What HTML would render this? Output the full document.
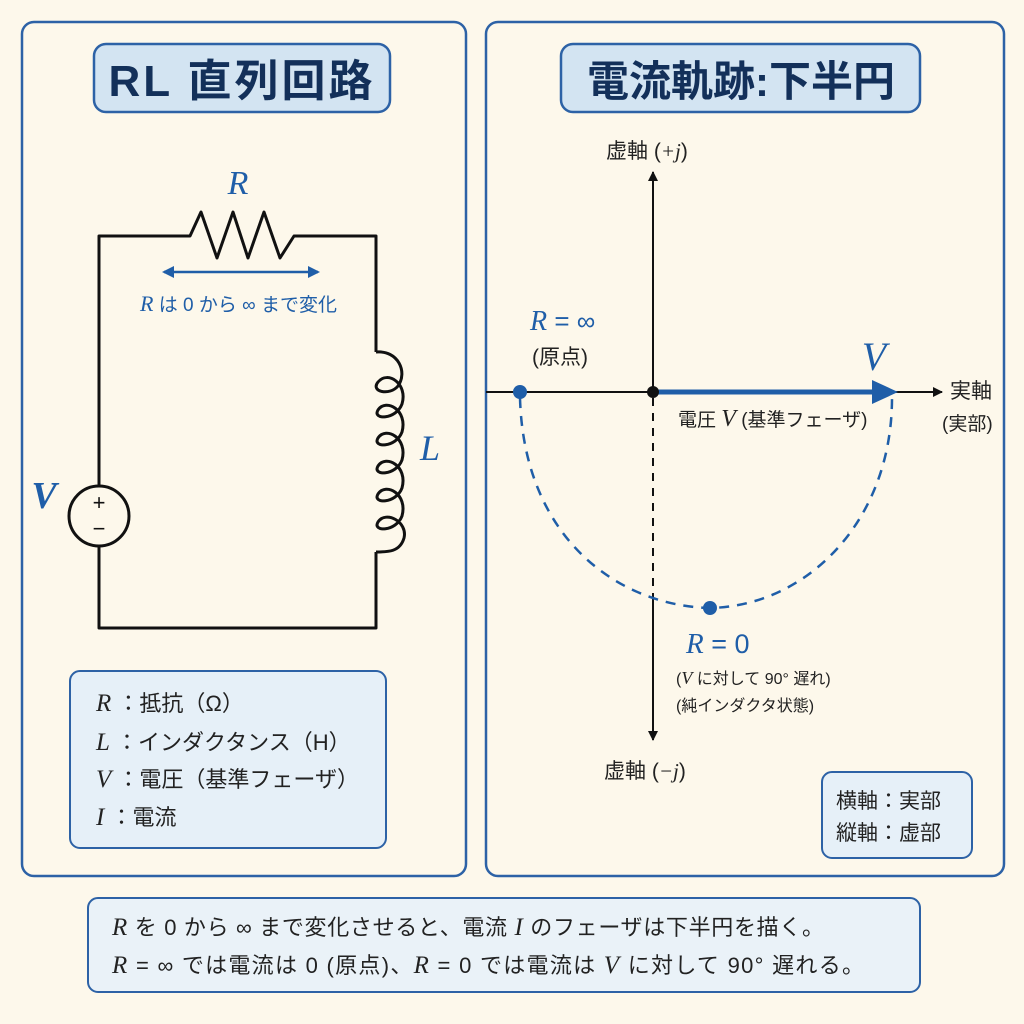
<!DOCTYPE html>
<html><head><meta charset="utf-8"><style>
html,body{margin:0;padding:0;background:#fdf8eb;}
svg{display:block;}
text{font-family:"Liberation Sans","Noto Sans CJK JP",sans-serif;}
.it{font-family:"Liberation Serif","Noto Serif CJK SC",serif;font-style:italic;}
</style></head><body>
<svg width="1024" height="1024" viewBox="0 0 1024 1024" xmlns="http://www.w3.org/2000/svg">
<rect width="1024" height="1024" fill="#fdf8eb"/>
<defs>
<marker id="ab" markerWidth="10" markerHeight="10" refX="9" refY="5" orient="auto" markerUnits="userSpaceOnUse"><path d="M0,0 L10,5 L0,10 z" fill="#111"/></marker>
<marker id="bb" markerWidth="16" markerHeight="16" refX="10" refY="6" orient="auto-start-reverse" markerUnits="userSpaceOnUse"><path d="M0,0 L12,6 L0,12 z" fill="#1f5ea8"/></marker>
</defs>
<rect x="22" y="22" width="444" height="854" rx="12" fill="#fdf8eb" stroke="#2d62a6" stroke-width="2.5"/>
<rect x="486" y="22" width="518" height="854" rx="12" fill="#fdf8eb" stroke="#2d62a6" stroke-width="2.5"/>
<rect x="88" y="898" width="832" height="94" rx="10" fill="#eaf2f8" stroke="#2d62a6" stroke-width="2"/>
<rect x="94" y="44" width="296" height="68" rx="12" fill="#d3e4f2" stroke="#2d62a6" stroke-width="2.5"/>
<text x="242" y="96" text-anchor="middle" font-size="44" font-weight="bold" fill="#13305a" letter-spacing="3">RL 直列回路</text>
<rect x="561" y="44" width="359" height="68" rx="12" fill="#d3e4f2" stroke="#2d62a6" stroke-width="2.5"/>
<text x="741" y="96" text-anchor="middle" font-size="42" font-weight="bold" fill="#13305a">電流軌跡:下半円</text>
<g fill="none" stroke="#111" stroke-width="3" stroke-linejoin="round">
<path d="M99,486 V236 H190 L201,212 L217,258 L233,212 L248,258 L264,212 L280,258 L294,236 H376 V352"/>
<path d="M99,546 V628 H376 V552"/>
<circle cx="99" cy="516" r="30"/>
<path d="M376,352 C398,350 408,372 398,386 C390,396 370,392 378,382 C388,370 408,384 402,404 C396,420 372,420 378,410 C386,398 408,410 402,432 C396,448 372,448 378,438 C386,426 408,438 402,460 C396,476 372,476 378,466 C386,454 408,466 402,488 C396,504 372,504 378,494 C386,482 408,494 402,516 C396,532 372,532 378,522 C386,510 408,522 404,538 C400,552 388,552 376,552"/>
</g>
<text x="99" y="510" text-anchor="middle" font-size="22" fill="#111">+</text>
<text x="99" y="536" text-anchor="middle" font-size="22" fill="#111">−</text>
<text x="238" y="194" class="it" font-size="34" fill="#1f5ea8" text-anchor="middle">R</text>
<text x="44" y="508" class="it" font-size="38" fill="#1f5ea8" font-weight="bold" text-anchor="middle">V</text>
<text x="430" y="460" class="it" font-size="36" fill="#1f5ea8" text-anchor="middle">L</text>
<line x1="164" y1="272" x2="318" y2="272" stroke="#1f5ea8" stroke-width="2.5" marker-start="url(#bb)" marker-end="url(#bb)"/>
<text x="140" y="311" font-size="19" fill="#1f5ea8"><tspan class="it" font-size="22">R</tspan> は 0 から ∞ まで変化</text>
<rect x="70" y="671" width="316" height="177" rx="10" fill="#e6f0f8" stroke="#2d62a6" stroke-width="2"/>
<g font-size="22" fill="#222">
<text x="96" y="711"><tspan class="it" font-size="25">R</tspan> ：抵抗（Ω）</text>
<text x="96" y="750"><tspan class="it" font-size="25">L</tspan> ：インダクタンス（H）</text>
<text x="96" y="787"><tspan class="it" font-size="25">V</tspan> ：電圧（基準フェーザ）</text>
<text x="96" y="825"><tspan class="it" font-size="25">I</tspan> ：電流</text>
</g>
<line x1="653" y1="740" x2="653" y2="172" stroke="#111" stroke-width="2" marker-end="url(#ab)"/>
<line x1="653" y1="398" x2="653" y2="740" stroke="#111" stroke-width="2" marker-end="url(#ab)"/>
<line x1="486" y1="392" x2="942" y2="392" stroke="#111" stroke-width="2" marker-end="url(#ab)"/>
<line x1="653" y1="392" x2="880" y2="392" stroke="#1f5ea8" stroke-width="5"/>
<path d="M872,380 L898,392 L872,404 z" fill="#1f5ea8"/>
<rect x="649" y="396" width="8" height="200" fill="#fdf8eb"/>
<line x1="653" y1="398" x2="653" y2="596" stroke="#111" stroke-width="2" stroke-dasharray="8,7"/>
<path d="M520,398 C524,540 620,606 710,608 C808,606 892,520 892,398" fill="none" stroke="#1f5ea8" stroke-width="2.5" stroke-dasharray="10,8"/>
<circle cx="653" cy="392" r="6" fill="#111"/>
<circle cx="520" cy="392" r="7" fill="#1f5ea8"/>
<circle cx="710" cy="608" r="7" fill="#1f5ea8"/>
<text x="606" y="158" font-size="21" fill="#222">虚軸 (<tspan class="it">+j</tspan>)</text>
<text x="604" y="778" font-size="21" fill="#222">虚軸 (<tspan class="it">−j</tspan>)</text>
<text x="950" y="398" font-size="21" fill="#222">実軸</text>
<text x="942" y="430" font-size="19" fill="#222">(実部)</text>
<text x="530" y="330" font-size="26" fill="#1f5ea8"><tspan class="it" font-size="28">R</tspan> = ∞</text>
<text x="532" y="364" font-size="21" fill="#222">(原点)</text>
<text x="874" y="370" class="it" font-size="40" fill="#1f5ea8" text-anchor="middle">V</text>
<text x="678" y="426" font-size="19" fill="#222">電圧 <tspan class="it" font-size="24">V</tspan> (基準フェーザ)</text>
<text x="686" y="653" font-size="27" fill="#1f5ea8"><tspan class="it" font-size="29">R</tspan> = 0</text>
<text x="676" y="684" font-size="16" fill="#222">(<tspan class="it" font-size="18">V</tspan> に対して 90° 遅れ)</text>
<text x="676" y="711" font-size="16" fill="#222">(純インダクタ状態)</text>
<rect x="822" y="772" width="150" height="86" rx="10" fill="#e6f0f8" stroke="#2d62a6" stroke-width="2"/>
<text x="836" y="808" font-size="21" fill="#222">横軸：実部</text>
<text x="836" y="840" font-size="21" fill="#222">縦軸：虚部</text>
<g font-size="22" fill="#222">
<text x="112" y="935" textLength="712" lengthAdjust="spacing"><tspan class="it" font-size="25">R</tspan> を 0 から ∞ まで変化させると、電流 <tspan class="it" font-size="25">I</tspan> のフェーザは下半円を描く。</text>
<text x="112" y="973" textLength="752" lengthAdjust="spacing"><tspan class="it" font-size="25">R</tspan> = ∞ では電流は 0 (原点)、<tspan class="it" font-size="25">R</tspan> = 0 では電流は <tspan class="it" font-size="25">V</tspan> に対して 90° 遅れる。</text>
</g>
</svg>
</body></html>
